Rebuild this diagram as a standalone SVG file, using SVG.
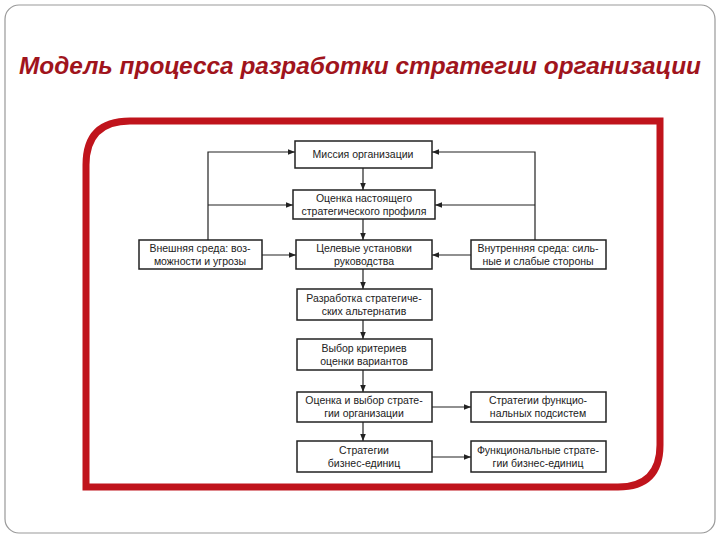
<svg xmlns="http://www.w3.org/2000/svg" width="720" height="540" viewBox="0 0 720 540">
<style>
.b{fill:#fff;stroke:#222;stroke-width:1.5}
.t{font-family:"Liberation Sans",Arial,sans-serif;font-size:10.5px;fill:#222;text-anchor:middle}
.c{fill:none;stroke:#222;stroke-width:1.2}
</style>
<defs><marker id="a" viewBox="0 0 10 10" refX="10" refY="5" markerWidth="7" markerHeight="7" orient="auto" markerUnits="userSpaceOnUse"><path d="M0,1 L10,5 L0,9z" fill="#222"/></marker></defs>
<rect x="0" y="0" width="720" height="540" fill="#fff"/>
<rect x="5" y="5" width="710" height="528" rx="14" fill="#fff" stroke="#999" stroke-width="1.2"/>
<text x="360" y="74" font-family="Liberation Sans,Arial,sans-serif" font-size="24" font-style="italic" font-weight="bold" fill="#a0141c" text-anchor="middle" textLength="682" lengthAdjust="spacingAndGlyphs">Модель процесса разработки стратегии организации</text>
<path d="M130,121 H660 V445 Q660,487 618,487 H86 V165 Q86,121 130,121Z" fill="#fff" stroke="#c0141c" stroke-width="7"/>
<g id="connectors">
<path class="c" d="M363,168 V190" marker-end="url(#a)"/>
<path class="c" d="M363,219 V240" marker-end="url(#a)"/>
<path class="c" d="M363,269 V289" marker-end="url(#a)"/>
<path class="c" d="M363,320 V339" marker-end="url(#a)"/>
<path class="c" d="M363,370 V392" marker-end="url(#a)"/>
<path class="c" d="M363,422 V441" marker-end="url(#a)"/>
<path class="c" d="M208,240 V152 H295" marker-end="url(#a)"/>
<path class="c" d="M208,205 H293" marker-end="url(#a)"/>
<path class="c" d="M535,240 V152 H432" marker-end="url(#a)"/>
<path class="c" d="M535,205 H435" marker-end="url(#a)"/>
<path class="c" d="M262,255 H296" marker-end="url(#a)"/>
<path class="c" d="M471,255 H432" marker-end="url(#a)"/>
<path class="c" d="M432,407 H471" marker-end="url(#a)"/>
<path class="c" d="M432,457 H471" marker-end="url(#a)"/>
</g>
<g id="n1"><rect class="b" x="295" y="141" width="137" height="27"/><text class="t" x="363" y="158">Миссия организации</text></g>
<g id="n2"><rect class="b" x="293" y="190" width="142" height="29"/><text class="t" x="364" y="202">Оценка настоящего</text><text class="t" x="364" y="215">стратегического профиля</text></g>
<g id="n3"><rect class="b" x="139" y="240" width="123" height="29"/><text class="t" x="200" y="252">Внешняя среда: воз-</text><text class="t" x="200" y="265">можности и угрозы</text></g>
<g id="n4"><rect class="b" x="296" y="240" width="136" height="29"/><text class="t" x="364" y="252">Целевые установки</text><text class="t" x="364" y="265">руководства</text></g>
<g id="n5"><rect class="b" x="471" y="240" width="135" height="29"/><text class="t" x="538" y="252">Внутренняя среда: силь-</text><text class="t" x="538" y="265">ные и слабые стороны</text></g>
<g id="n6"><rect class="b" x="297" y="289" width="135" height="31"/><text class="t" x="364" y="302">Разработка стратегиче-</text><text class="t" x="364" y="315">ских альтернатив</text></g>
<g id="n7"><rect class="b" x="297" y="339" width="135" height="31"/><text class="t" x="364" y="352">Выбор критериев</text><text class="t" x="364" y="365">оценки вариантов</text></g>
<g id="n8"><rect class="b" x="297" y="392" width="135" height="30"/><text class="t" x="364" y="404">Оценка и выбор страте-</text><text class="t" x="364" y="417">гии организации</text></g>
<g id="n9"><rect class="b" x="297" y="441" width="135" height="31"/><text class="t" x="364" y="454">Стратегии</text><text class="t" x="364" y="467">бизнес-единиц</text></g>
<g id="n10"><rect class="b" x="471" y="392" width="135" height="30"/><text class="t" x="538" y="404">Стратегии функцио-</text><text class="t" x="538" y="417">нальных подсистем</text></g>
<g id="n11"><rect class="b" x="471" y="441" width="135" height="31"/><text class="t" x="538" y="454">Функциональные страте-</text><text class="t" x="538" y="467">гии бизнес-единиц</text></g>
</svg>
